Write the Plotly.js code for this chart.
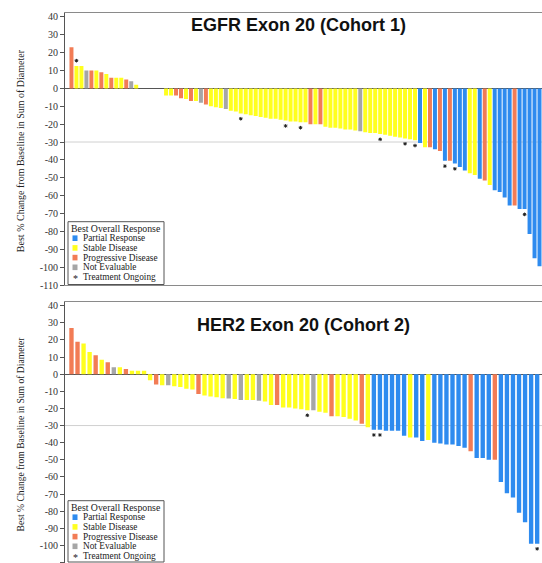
<!DOCTYPE html>
<html>
<head>
<meta charset="utf-8">
<script src="https://cdn.plot.ly/plotly-3.0.1.min.js"></script>
<style>
html,body{margin:0;padding:0;background:#fff;}
#chart{width:542px;height:563px;}
</style>
</head>
<body>
<div id="chart"></div>
<script>
// ---------- data ----------
const responseCodes  = ["PR", "SD", "PD", "NE"];
const responseNames  = ["Partial Response", "Stable Disease", "Progressive Disease", "Not Evaluable"];
const responseColors = ["#2E8BEF", "#FFFF1E", "#F27C55", "#A6A6A6"];
const ongoingLabel   = "Treatment Ongoing";
const legendTitle    = "Best Overall Response";
const chartTitles    = ["EGFR Exon 20 (Cohort 1)", "HER2 Exon 20 (Cohort 2)"];
const yAxisTitle     = "Best % Change from Baseline in Sum of Diameter";
const tickValues     = [40, 30, 20, 10, 0, -10, -20, -30, -40, -50, -60, -70, -80, -90, -100, -110];
const tickLabels     = ["40", "30", "20", "10", "0", "-10", "-20", "-30", "-40", "-50", "-60", "-70", "-80", "-90", "-100", "-110"];

// EGFR Exon 20 (Cohort 1) - best % change, one value per patient
const egfrChange = [
  23, 12.5, 12.5, 10, 10, 10, 9, 8, 6, 6, 6, 5, 4, 2,
  0, 0, 0, 0, 0,
  -4, -4, -4, -5.5, -6, -7, -7, -8, -9, -10, -10.5, -11, -11.5, -12.5, -13, -14, -14.5, -15, -15.5, -16,
  -16.5, -17, -17, -17.5, -18, -18.5, -18.5, -19, -19, -20, -20, -20, -21.5, -22, -22, -22.5, -23, -23,
  -23.5, -24, -24.5, -25, -25, -25.5, -26, -26.5, -27, -27.5, -28, -28.5, -29, -30.5, -33, -33, -34, -35,
  -40.5, -40.5, -42, -44, -46, -47.5, -48.5, -50.5, -51.5, -54, -57, -58, -61, -65.5, -65.5, -67.5, -67.5,
  -81.5, -95, -99.5
];
const egfrResponse = [
  "PD","SD","SD","NE","PD","SD","PD","SD","PD","SD","SD","PD","NE","SD",
  "SD","SD","SD","SD","SD",
  "SD","SD","PD","PD","SD","PD","SD","NE","PD","SD","SD","SD","NE",
  "SD","SD","SD","SD","SD","SD","SD","SD","SD","SD","SD","SD","SD","SD","SD","SD",
  "PD","SD","PD",
  "SD","SD","SD","SD","SD","SD","SD",
  "NE",
  "SD","SD","SD","SD","SD","SD","SD","SD","SD","SD","SD",
  "PR","SD","PD","PR","PD","PR","PD","PR","PR","PR","SD","SD","PR","PD","SD",
  "PR","PR","PR","PR","PD","PR","PR","PR","PR","PR"
];
const egfrOngoing = [1, 34, 43, 46, 62, 67, 69, 75, 77, 91];

// HER2 Exon 20 (Cohort 2)
const her2Change = [
  27, 19, 18, 13, 11, 8.5, 7, 4, 4, 3, 2, 2, 2,
  -3.5, -6, -6.5, -6.5, -7, -7.5, -8.5, -9, -11.5, -12.5, -13, -13.5, -14, -14.2, -14.5, -15, -15, -15,
  -15.5, -16, -18, -18, -19.5, -19.5, -20, -20.5, -21, -21, -22, -22.5, -24.5, -24.5, -25, -26, -27, -29,
  -31, -32.5, -32.5, -33, -33, -33, -36, -37, -37, -39, -38.5, -40, -40.5, -41, -41, -42, -43, -45,
  -49, -49, -50, -50, -63, -69.5, -72, -81, -86.5, -99, -99
];
const her2Response = [
  "PD","PD","SD","SD","PD","SD","PD","NE","SD","PD","SD","SD","SD",
  "SD","PD","SD","NE","SD","SD","SD","SD","PD","SD","SD","SD","SD","NE","SD","NE","SD","SD","NE",
  "SD","SD","PD","SD","SD","SD","SD","SD","NE","SD","SD","PD","SD","SD","SD","SD","PD","SD",
  "PR","PR","PR","PR","PR","PR","SD","PR","PR","SD","PR","PR","PR","PR","PR","PR","PD",
  "PR","PR","PR","PD","PR","PR","PR","PR","PR","PR","PR"
];
const her2Ongoing = [39, 50, 51, 77];

// ---------- layout helpers ----------
const W = 542, H = 563;
const px = x => x / W;
const py = y => 1 - y / H;
const serif = "Liberation Serif, Times New Roman, serif";
const sans = "Liberation Sans, Arial, sans-serif";

const charts = [
  {change: egfrChange, resp: egfrResponse, ongoing: egfrOngoing, xa: "x", ya: "y",
   top: 13.3, bottom: 285, xr: [-1.3, 94.5], barW: 0.8, titleX: 298.8, titleY: 24.5, ytFont: 10, legTop: 221.7},
  {change: her2Change, resp: her2Response, ongoing: her2Ongoing, xa: "x2", ya: "y2",
   top: 302.3, bottom: 562.5, xr: [-1.07, 77.8], barW: 0.72, titleX: 303.4, titleY: 325, ytFont: 9.6, legTop: 500.7}
];

const traces = [];
const shapes = [];
const annotations = [];
const layout = {
  width: W, height: H,
  margin: {l: 0, r: 0, t: 0, b: 0},
  paper_bgcolor: "#fff", plot_bgcolor: "#fff",
  showlegend: false, barmode: "overlay",
  font: {family: serif, size: 10, color: "#333"}
};

charts.forEach((c, ci) => {
  const idx = c.change.map((_, i) => i);
  responseCodes.forEach((code, k) => {
    const sel = idx.filter(i => c.resp[i] === code);
    traces.push({
      type: "bar", name: responseNames[k],
      x: sel, y: sel.map(i => c.change[i]),
      width: c.barW,
      marker: {color: responseColors[k], line: {width: 0}},
      xaxis: c.xa, yaxis: c.ya, hoverinfo: "x+y"
    });
  });
  traces.push({
    type: "scatter", mode: "markers", name: ongoingLabel,
    x: c.ongoing,
    y: c.ongoing.map(i => c.change[i] + (c.change[i] >= 0 ? 3 : -3)),
    marker: {symbol: "asterisk-open", size: 3, color: "#222", line: {color: "#222", width: 1}},
    xaxis: c.xa, yaxis: c.ya, hoverinfo: "skip"
  });

  const xKey = ci === 0 ? "xaxis" : "xaxis2";
  const yKey = ci === 0 ? "yaxis" : "yaxis2";
  layout[xKey] = {
    domain: [px(65), 1], range: c.xr, anchor: c.ya,
    showticklabels: false, ticks: "", showgrid: false, zeroline: false,
    showline: true, mirror: true, linecolor: "#8a8a8a", linewidth: 1, fixedrange: true
  };
  layout[yKey] = {
    domain: [py(c.bottom), py(c.top)], range: [-110, 42], anchor: c.xa,
    tickmode: "array", tickvals: tickValues, ticktext: tickLabels,
    ticks: "outside", ticklen: 4, tickcolor: "#555", tickwidth: 1,
    tickfont: {family: serif, size: 10, color: "#333"},
    showline: true, linecolor: "#555", linewidth: 1,
    showgrid: false, zeroline: true, zerolinecolor: "#555", zerolinewidth: 1, fixedrange: true
  };
  // reference line at -30
  shapes.push({type: "line", xref: c.xa + " domain", yref: c.ya, x0: 0, x1: 1, y0: -30, y1: -30,
               line: {color: "#d0d0d0", width: 1}, layer: "below"});

  // chart title
  annotations.push({text: chartTitles[ci], xref: "paper", yref: "paper", x: px(c.titleX), y: py(c.titleY),
    xanchor: "center", yanchor: "middle", showarrow: false,
    font: {family: sans, size: 18, weight: "bold", color: "#111"}});
  // y axis title
  annotations.push({text: yAxisTitle, xref: "paper", yref: "paper", x: px(20.5), y: py((c.top + c.bottom) / 2 + 1.5),
    xanchor: "center", yanchor: "middle", textangle: -90, showarrow: false,
    font: {family: serif, size: c.ytFont, color: "#222"}});

  // legend box
  const t = c.legTop;
  shapes.push({type: "rect", xref: "paper", yref: "paper", x0: px(68), x1: px(164), y0: py(t), y1: py(c.bottom - 0.5),
               line: {color: "#555", width: 1}, fillcolor: "#fff", layer: "above"});
  annotations.push({text: legendTitle, xref: "paper", yref: "paper", x: px(70.5), y: py(t + 6.6),
    xanchor: "left", yanchor: "middle", showarrow: false, borderpad: 0,
    font: {family: serif, size: 9.8, color: "#222"}});
  responseNames.forEach((nm, k) => {
    const yc = t + 16.5 + 9.7 * k;
    shapes.push({type: "rect", xref: "paper", yref: "paper", x0: px(72.5), x1: px(77.5), y0: py(yc - 2.8), y1: py(yc + 2.8),
                 line: {width: 0}, fillcolor: responseColors[k], layer: "above"});
    annotations.push({text: nm, xref: "paper", yref: "paper", x: px(81.5), y: py(yc),
      xanchor: "left", yanchor: "middle", showarrow: false, borderpad: 0,
      font: {family: serif, size: 9.3, color: "#222"}});
  });
  const yo = t + 16.5 + 9.7 * 4;
  annotations.push({text: "*", xref: "paper", yref: "paper", x: px(75), y: py(yo + 1),
    xanchor: "center", yanchor: "middle", showarrow: false, borderpad: 0,
    font: {family: serif, size: 10, color: "#222"}});
  annotations.push({text: ongoingLabel, xref: "paper", yref: "paper", x: px(81.5), y: py(yo),
    xanchor: "left", yanchor: "middle", showarrow: false, borderpad: 0,
    font: {family: serif, size: 9.3, color: "#222"}});
});

layout.shapes = shapes;
layout.annotations = annotations;

Plotly.newPlot("chart", traces, layout, {staticPlot: true, displayModeBar: false});
</script>
</body>
</html>
